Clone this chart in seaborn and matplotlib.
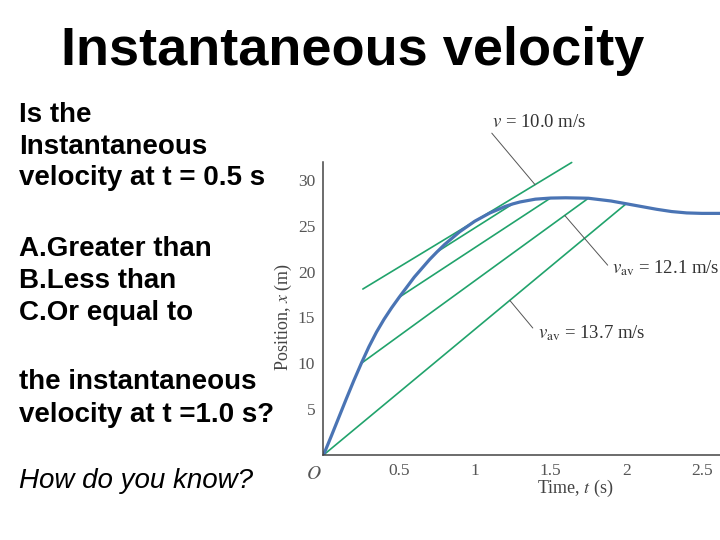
import numpy as np
import pandas as pd
import seaborn as sns
from matplotlib import pyplot as plt

# position-time curve
t = [0, 0.05, 0.1, 0.15, 0.2, 0.25, 0.3, 0.35, 0.4, 0.45, 0.5, 0.6, 0.7, 0.75, 0.8, 0.9,
     1.0, 1.1, 1.2, 1.25, 1.3, 1.4, 1.5, 1.6, 1.7, 1.75, 1.8, 1.9, 2.0, 2.1, 2.2, 2.3,
     2.4, 2.5, 2.62]
x = [0, 2.0, 4.05, 6.1, 8.1, 10.0, 11.8, 13.4, 14.8, 16.05, 17.2, 19.4, 21.3, 22.15, 22.95, 24.35,
     25.5, 26.4, 27.1, 27.38, 27.6, 27.9, 28.02, 28.05, 28.02, 28.0, 27.9, 27.7, 27.4, 27.1, 26.8, 26.55,
     26.4, 26.35, 26.35]

# secant pairs symmetric around t = 1 s
secant_pairs = [(0.0, 2.0), (0.25, 1.75), (0.5, 1.5), (0.75, 1.25)]
tangent_t0 = 1.0
tangent_v = 10.0
tangent_span = [0.26, 1.64]

xticks = [0.5, 1, 1.5, 2, 2.5]
xtick_labels = ['0.5', '1', '1.5', '2', '2.5']
yticks = [5, 10, 15, 20, 25, 30]

left_lines = ['Is the', 'Instantaneous', 'velocity at t = 0.5 s',
              'A.Greater than', 'B.Less than', 'C.Or equal to',
              'the instantaneous', 'velocity at t =1.0 s?']
left_baselines = [122, 153.5, 185, 255.5, 288, 320.5, 389, 421.5]

sns.set_theme(style='white')
plt.rcParams['font.family'] = ['Liberation Sans', 'DejaVu Sans']
plt.rcParams['mathtext.fontset'] = 'stix'

curve = pd.DataFrame({'t': t, 'x': x})
pos = dict(zip(t, x))

fig = plt.figure(figsize=(7.2, 5.4), dpi=100)
ax = fig.add_axes([0.4493, 0.1574, 0.5507, 0.6283])

green = '#21a36c'
for a, b in secant_pairs:
    seg = pd.DataFrame({'t': [a, b], 'x': [pos[a], pos[b]]})
    sns.lineplot(data=seg, x='t', y='x', ax=ax, color=green, lw=1.2, estimator=None)

x1 = pos[tangent_t0]
tan = pd.DataFrame({'t': tangent_span,
                    'x': [x1 + tangent_v * (s - tangent_t0) for s in tangent_span]})
sns.lineplot(data=tan, x='t', y='x', ax=ax, color=green, lw=1.2, estimator=None)

sns.lineplot(data=curve, x='t', y='x', ax=ax, color='#4a74b4', lw=2.3, estimator=None)

ax.set_xlim(0, 2.62)
ax.set_ylim(0, 37)
ax.set_xticks(xticks)
ax.set_xticklabels(xtick_labels)
ax.set_yticks(yticks)
for sp in ['top', 'right']:
    ax.spines[sp].set_visible(False)
for sp in ['left', 'bottom']:
    ax.spines[sp].set_color('#444444')
    ax.spines[sp].set_linewidth(1.1)
ax.spines['left'].set_bounds(0, 32)
ax.tick_params(direction='in', length=6, width=0.9, color='#444444',
               labelcolor='#555555', labelsize=12.5, pad=6)
for lab in ax.get_xticklabels() + ax.get_yticklabels():
    lab.set_family('Liberation Serif')
ax.set_xlabel('')
ax.set_ylabel('')
ax.text(0.634, -0.1, 'Time, $t$ (s)', transform=ax.transAxes, ha='center', va='center',
        family='Liberation Serif', fontsize=13, color='#444444')
ax.text(-0.102, 0.407, 'Position, $x$ (m)', transform=ax.transAxes, ha='center', va='center',
        rotation=90, family='Liberation Serif', fontsize=13, color='#444444')
ax.annotate('$O$', (0, 0), xytext=(-7, -14), textcoords='offset points',
            ha='center', va='center', fontsize=14, color='#555555')

# labels with thin leader lines
lead = dict(arrowstyle='-', color='#555555', lw=0.7, shrinkA=0, shrinkB=0)
ax.annotate('', xy=(1.398, x1 + tangent_v * (1.398 - tangent_t0)), xytext=(1.112, 35.1),
            arrowprops=lead)
ax.text(1.114, 35.8, '$v$ = 10.0 m/s', family='Liberation Serif', fontsize=13.5,
        color='#333333', va='baseline')
s2 = (pos[1.75] - pos[0.25]) / 1.5
ax.annotate('', xy=(1.594, pos[0.25] + s2 * (1.594 - 0.25)), xytext=(1.878, 20.7),
            arrowprops=lead)
ax.text(1.907, 19.85, r'$v_{\rm av}$ = 12.1 m/s', family='Liberation Serif', fontsize=13.5,
        color='#333333', va='baseline', clip_on=False)
s1 = pos[2.0] / 2.0
ax.annotate('', xy=(1.231, s1 * 1.231), xytext=(1.383, 13.85), arrowprops=lead)
ax.text(1.418, 12.76, r'$v_{\rm av}$ = 13.7 m/s', family='Liberation Serif', fontsize=13.5,
        color='#333333', va='baseline')

fig.text(0.49, 1 - 65 / 540, 'Instantaneous velocity', ha='center', va='baseline',
         fontsize=39, fontweight='bold', color='black')
for line, b in zip(left_lines, left_baselines):
    fig.text(19 / 720, 1 - b / 540, line, ha='left', va='baseline',
             fontsize=20, fontweight='bold', color='black')
fig.text(19 / 720, 1 - 488 / 540, 'How do you know?', ha='left', va='baseline',
         fontsize=20, style='italic', color='black')

fig.savefig('out.png', dpi=100)
